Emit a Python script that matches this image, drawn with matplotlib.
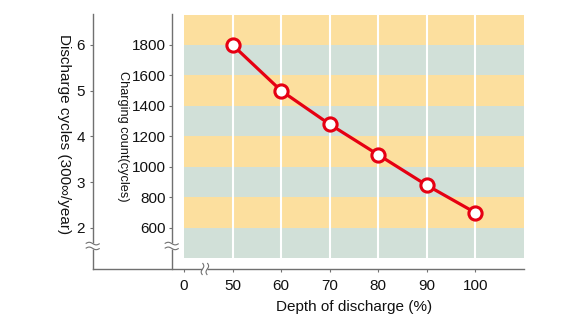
import numpy as np
import matplotlib
matplotlib.use("Agg")
import matplotlib.pyplot as plt
import matplotlib.transforms as mtransforms
from matplotlib.lines import Line2D

# ---- data ----
depth = [50, 60, 70, 80, 90, 100]
cycles = [1800, 1500, 1280, 1080, 880, 700]
x_tick_labels = ["0", "50", "60", "70", "80", "90", "100"]
cycle_ticks = [600, 800, 1000, 1200, 1400, 1600, 1800]
year_ticks = [2, 3, 4, 5, 6]
cycles_per_year = 300

# ---- style ----
RED = "#E60012"
YELLOW = "#FCDF9E"
GREEN = "#D1E0D8"
GRAY = "#707070"
TXT = "#111111"
plt.rcParams["font.family"] = ["Liberation Sans", "DejaVu Sans"]
plt.rcParams["text.color"] = TXT
plt.rcParams["xtick.labelcolor"] = TXT
plt.rcParams["ytick.labelcolor"] = TXT

W, H = 580, 330
fig = plt.figure(figsize=(W / 100, H / 100), dpi=100)
ax_l, ax_r, ax_t, ax_b = 92.7, 524.0, 14.5, 269.0
ax = fig.add_axes([ax_l / W, 1 - ax_b / H, (ax_r - ax_l) / W, (ax_b - ax_t) / H])

x_zero = depth[0] - 10          # where the "0" tick sits after the axis break
x_right = 110
px_per_unit = (ax_r - ax_l) / 88.8
ax.set_xlim(x_right - (ax_r - ax_l) / px_per_unit, x_right)
ax.set_ylim(331, 2000)

# background bands
edges = np.arange(400, 2001, 200)
for i, (lo, hi) in enumerate(zip(edges[:-1], edges[1:])):
    ax.fill_between([x_zero, x_right], lo, hi, color=GREEN if i % 2 == 0 else YELLOW,
                    lw=0, zorder=0)
ax.vlines(depth, edges[0], edges[-1], colors="white", lw=1.5, zorder=1)

ax.plot(depth, cycles, color=RED, lw=2.3, marker="o", ms=9.5, mfc="white",
        mec=RED, mew=2.2, zorder=3, clip_on=False)

# spines
for s in ("top", "right"):
    ax.spines[s].set_visible(False)
for s in ("left", "bottom"):
    ax.spines[s].set_color(GRAY)
    ax.spines[s].set_linewidth(1.0)
charge_spine_frac = (171.7 - ax_l) / (ax_r - ax_l)
ax.spines["left"].set_position(("axes", charge_spine_frac))

FS = 11
ax.set_yticks(cycle_ticks)
ax.set_yticklabels([str(v) for v in cycle_ticks])
ax.set_xticks([x_zero] + depth)
ax.set_xticklabels(x_tick_labels)
ax.tick_params(axis="y", direction="out", length=2.5, width=0.8, color=GRAY,
               pad=1.5, labelsize=FS)
ax.tick_params(axis="x", direction="out", length=2.5, width=0.8, color=GRAY,
               pad=4.5, labelsize=FS)

sec = ax.secondary_yaxis(0, functions=(lambda c: c / cycles_per_year,
                                       lambda y: y * cycles_per_year))
sec.set_yticks(year_ticks)
sec.set_yticklabels([str(v) for v in year_ticks])
sec.spines["left"].set_color(GRAY)
sec.spines["left"].set_linewidth(1.0)
sec.tick_params(direction="out", length=2.5, width=0.8, color=GRAY, pad=3,
                labelsize=FS)

# labels
fig.text(63.5 / W, 1 - 134 / H, "Discharge cycles (300\u221e/year)", rotation=270,
         ha="center", va="center", fontsize=FS)
fig.text(122.5 / W, 1 - 136.5 / H, "Charging count(cycles)", rotation=270,
         ha="center", va="center", fontsize=9.2)
fig.text(354 / W, 1 - 307 / H, "Depth of discharge (%)", ha="center", va="center",
         fontsize=FS)

# break marks (in display pixels)
ident = mtransforms.IdentityTransform()
def add(xs, ys, color, lw):
    fig.add_artist(Line2D(xs, ys, transform=ident, color=color, lw=lw,
                          zorder=10, solid_capstyle="butt"))

y_break = 482
t = np.linspace(-1, 1, 40)
for xpix in (ax_l, 171.7):
    py = ax.transData.transform((x_zero, y_break))[1]
    add([xpix, xpix], [py - 2.6, py + 2.6], "white", 2.5)
    for off in (-2.4, 2.4):
        add(xpix + 7 * t, py + off - 1.3 * np.sin(np.pi * t), GRAY, 0.8)

bx, by = ax.transData.transform((44.3, 331))
add([bx - 2.6, bx + 2.6], [by, by], "white", 2.5)
for off in (-2.4, 2.4):
    add(bx + off + 1.3 * np.sin(np.pi * t), by + 6 * t, GRAY, 0.8)

fig.savefig("out.png", dpi=100)
